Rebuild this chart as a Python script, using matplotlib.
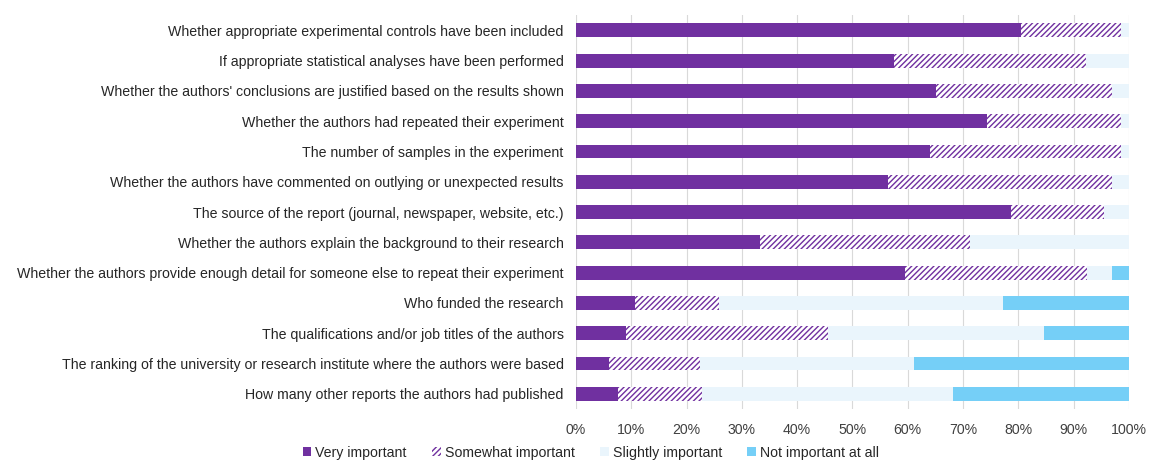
import matplotlib.pyplot as plt
import numpy as np

plt.rcParams['font.family'] = ['Liberation Sans', 'DejaVu Sans']
plt.rcParams['hatch.linewidth'] = 1.0

questions = [
    'Whether appropriate experimental controls have been included',
    'If appropriate statistical analyses have been performed',
    "Whether the authors' conclusions are justified based on the results shown",
    'Whether the authors had repeated their experiment',
    'The number of samples in the experiment',
    'Whether the authors have commented on outlying or unexpected results',
    'The source of the report (journal, newspaper, website, etc.)',
    'Whether the authors explain the background to their research',
    'Whether the authors provide enough detail for someone else to repeat their experiment',
    'Who funded the research',
    'The qualifications and/or job titles of the authors',
    'The ranking of the university or research institute where the authors were based',
    'How many other reports the authors had published',
]

very = [80.5, 57.5, 65.1, 74.4, 64.1, 56.5, 78.7, 33.2, 59.5, 10.6, 9.0, 6.0, 7.6]
somewhat = [18.0, 34.8, 31.8, 24.1, 34.4, 40.4, 16.8, 38.0, 32.9, 15.2, 36.5, 16.4, 15.1]
slightly = [1.5, 7.7, 3.1, 1.5, 1.5, 3.1, 4.5, 28.8, 4.6, 51.4, 39.2, 38.8, 45.5]
not_at_all = [0, 0, 0, 0, 0, 0, 0, 0, 3.0, 22.8, 15.3, 38.8, 31.8]

purple = '#7030a0'
pale = '#eaf5fc'
sky = '#75cff7'

fig = plt.figure(figsize=(11.52, 4.61), dpi=100)
ax = fig.add_axes([0.5, 0.113, 0.48, 0.854])

y = np.arange(len(questions))
h = 0.46
very = np.array(very)
somewhat = np.array(somewhat)
slightly = np.array(slightly)
not_at_all = np.array(not_at_all)

ax.barh(y, very, height=h, color=purple, label='Very important', zorder=3)
ax.barh(y, somewhat, left=very, height=h, color='white', edgecolor=purple,
        hatch='//////', linewidth=0, label='Somewhat important', zorder=3)
ax.barh(y, slightly, left=very + somewhat, height=h, color=pale,
        label='Slightly important', zorder=3)
ax.barh(y, not_at_all, left=very + somewhat + slightly, height=h, color=sky,
        label='Not important at all', zorder=3)

ax.set_yticks(y)
ax.set_yticklabels(questions, fontsize=10.15, color='#262626')
ax.set_ylim(len(questions) - 0.5, -0.5)
ax.set_xlim(0, 100)
ax.set_xticks(np.arange(0, 101, 10))
ax.set_xticklabels([str(v) + '%' for v in range(0, 101, 10)], fontsize=10.15, color='#404040')
ax.tick_params(axis='y', length=0, pad=9)
ax.tick_params(axis='x', length=0, pad=10)
ax.grid(axis='x', color='#d9d9d9', linewidth=0.8, zorder=0)
for s in ax.spines.values():
    s.set_visible(False)

handles, labels = ax.get_legend_handles_labels()
fig.legend(handles, labels, loc='lower center', bbox_to_anchor=(0.513, -0.025), ncol=4,
           frameon=False, fontsize=10.15, handlelength=0.6, handleheight=0.6,
           handletextpad=0.3, columnspacing=1.8, labelcolor='#262626')

fig.savefig('out.png', dpi=100)
